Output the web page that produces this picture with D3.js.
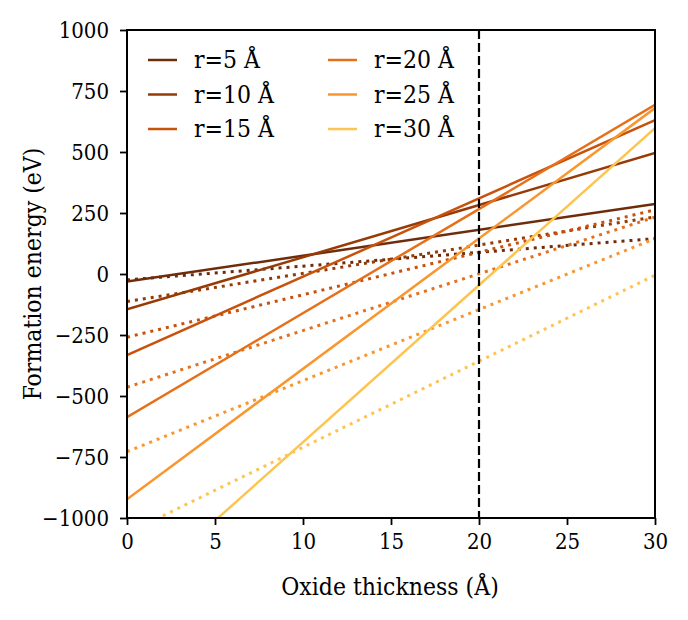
<!DOCTYPE html>
<html>
<head>
<meta charset="utf-8">
<script src="https://cdn.jsdelivr.net/npm/d3@7"></script>
<style>
  body { margin: 0; background: #fff; }
  svg text { font-family: 'DejaVu Serif Condensed', 'DejaVu Serif', serif !important; font-stretch: condensed; fill: #000; }
</style>
</head>
<body>
<svg id="chart" width="688" height="620"></svg>
<script>
// ---- data ----
const radii = [5, 10, 15, 20, 25, 30];
const labels = ["r=5 Å", "r=10 Å", "r=15 Å", "r=20 Å", "r=25 Å", "r=30 Å"];
const colors = ["#6e2c0b", "#963b06", "#c8510b", "#e66f19", "#f8962f", "#fec450"];
const xEnds = [0, 30];
const solidStart = [-31, -145, -332, -587, -923, -1333];
const solidEnd = [287, 496, 631, 693, 680, 598];
const dottedStart = [-24, -113, -259, -464, -728, -1063];
const dottedEnd = [145, 234, 263, 233, 145, -5];
const vLineX = 20;
const xTicks = [0, 5, 10, 15, 20, 25, 30];
const yTicks = [-1000, -750, -500, -250, 0, 250, 500, 750, 1000];

const FONT = "'DejaVu Serif Condensed', 'DejaVu Serif', serif";
const FS_TICK = 22, FS_LABEL = 24.5;
const svg = d3.select("#chart");
const m = { left: 127, right: 655, top: 30, bottom: 518 };
const x = d3.scaleLinear().domain([0, 30]).range([m.left, m.right]);
const y = d3.scaleLinear().domain([-1000, 1000]).range([m.bottom, m.top]);

svg.append("defs").append("clipPath").attr("id", "clip")
  .append("rect").attr("x", m.left).attr("y", m.top)
  .attr("width", m.right - m.left).attr("height", m.bottom - m.top);

const plot = svg.append("g").attr("clip-path", "url(#clip)");
const line = d3.line().x(d => x(d[0])).y(d => y(d[1]));

radii.forEach((r, i) => {
  plot.append("path")
    .attr("d", line([[xEnds[0], dottedStart[i]], [xEnds[1], dottedEnd[i]]]))
    .attr("fill", "none").attr("stroke", colors[i])
    .attr("stroke-width", 3).attr("stroke-dasharray", "3,5");
});
radii.forEach((r, i) => {
  plot.append("path")
    .attr("d", line([[xEnds[0], solidStart[i]], [xEnds[1], solidEnd[i]]]))
    .attr("fill", "none").attr("stroke", colors[i])
    .attr("stroke-width", 2.5);
});
plot.append("line")
  .attr("x1", x(vLineX)).attr("x2", x(vLineX))
  .attr("y1", m.top).attr("y2", m.bottom)
  .attr("stroke", "#000").attr("stroke-width", 2.2)
  .attr("stroke-dasharray", "9,4");

const fmt = d => (d < 0 ? "\u2212" + Math.abs(d) : String(d));
const xAxis = svg.append("g").attr("transform", `translate(0,${m.bottom})`)
  .call(d3.axisBottom(x).tickValues(xTicks).tickFormat(fmt).tickSizeInner(7).tickSizeOuter(0).tickPadding(8));
const yAxis = svg.append("g").attr("transform", `translate(${m.left},0)`)
  .call(d3.axisLeft(y).tickValues(yTicks).tickFormat(fmt).tickSizeInner(7).tickSizeOuter(0).tickPadding(11));
[xAxis, yAxis].forEach(a => {
  a.attr("font-family", FONT);
  a.select(".domain").remove();
  a.selectAll(".tick line").attr("stroke", "#000").attr("stroke-width", 1.8);
  a.selectAll(".tick text").attr("font-size", FS_TICK).style("font-family", FONT).attr("fill", "#000");
});
yAxis.selectAll(".tick text").attr("dy", "0.36em");

svg.append("rect").attr("x", m.left).attr("y", m.top)
  .attr("width", m.right - m.left).attr("height", m.bottom - m.top)
  .attr("fill", "none").attr("stroke", "#000").attr("stroke-width", 2);

svg.append("text").attr("x", (m.left + m.right) / 2 - 1).attr("y", 595)
  .attr("text-anchor", "middle").attr("font-size", FS_LABEL).style("font-family", FONT)
  .text("Oxide thickness (Å)");
svg.append("text")
  .attr("transform", `translate(41,${(m.top + m.bottom) / 2}) rotate(-90)`)
  .attr("text-anchor", "middle").attr("font-size", FS_LABEL).style("font-family", FONT)
  .text("Formation energy (eV)");

const legX = [148, 328], legY0 = 60, legDy = 34.5;
radii.forEach((r, i) => {
  const col = Math.floor(i / 3), row = i % 3;
  const lx = legX[col], ly = legY0 + row * legDy;
  svg.append("line").attr("x1", lx).attr("x2", lx + 29).attr("y1", ly).attr("y2", ly)
    .attr("stroke", colors[i]).attr("stroke-width", 2.5);
  svg.append("text").attr("x", lx + 46).attr("y", ly + 8)
    .attr("font-size", FS_LABEL).style("font-family", FONT).text(labels[i]);
});
</script>
</body>
</html>
